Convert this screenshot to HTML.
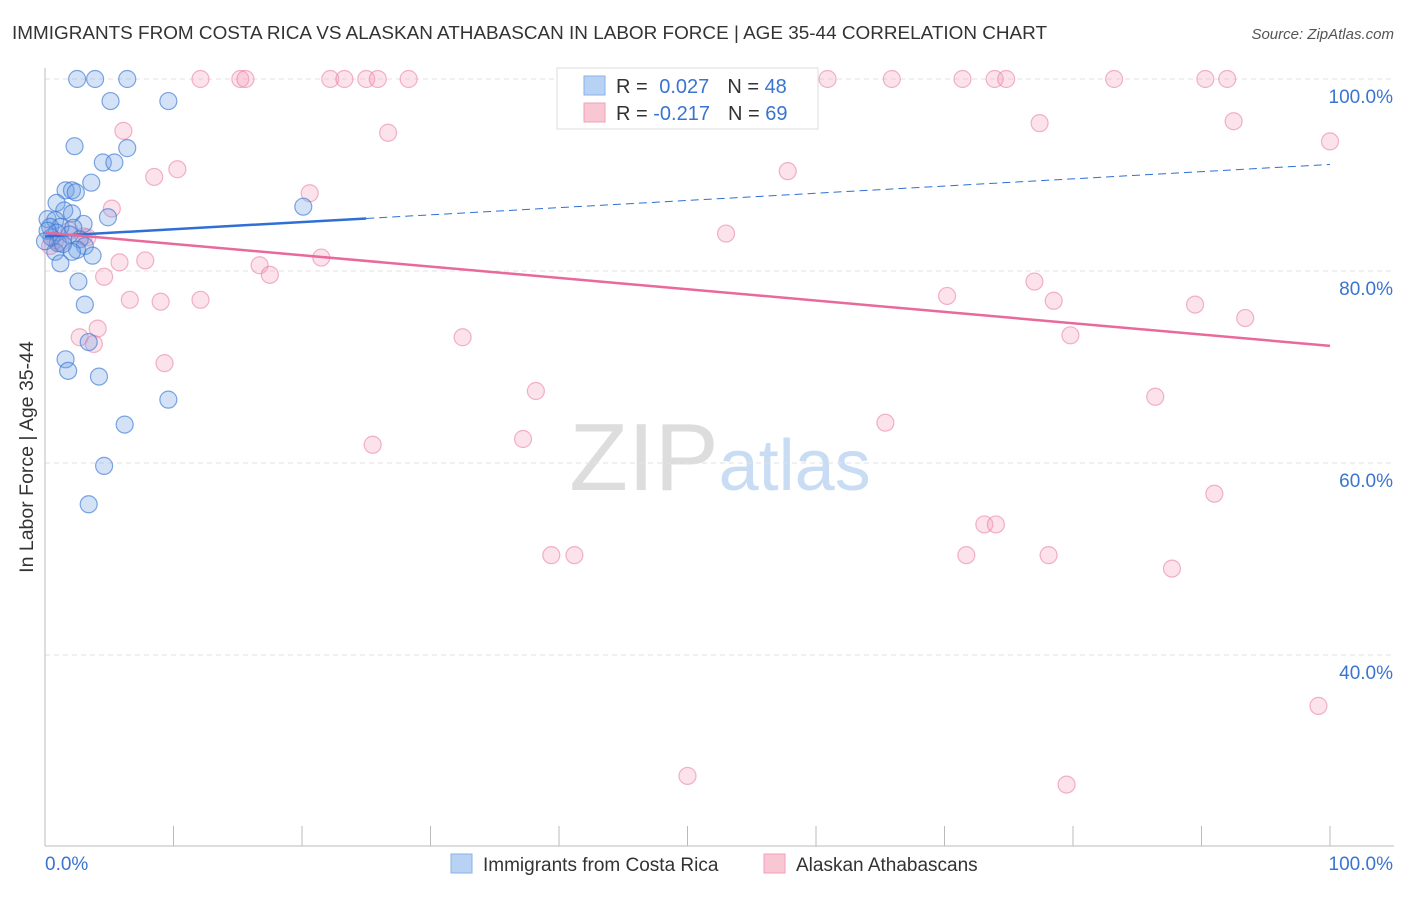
<!DOCTYPE html>
<html><head><meta charset="utf-8"><style>
body{margin:0;background:#fff;font-family:"Liberation Sans",sans-serif;}
svg text{font-family:"Liberation Sans",sans-serif;}
</style></head><body>
<svg id="chart" width="1406" height="892" xmlns="http://www.w3.org/2000/svg">
<text x="12" y="39" font-size="18.5" fill="#333" textLength="1035" lengthAdjust="spacingAndGlyphs">IMMIGRANTS FROM COSTA RICA VS ALASKAN ATHABASCAN IN LABOR FORCE | AGE 35-44 CORRELATION CHART</text>
<text x="1394" y="39" font-size="15" fill="#555" font-style="italic" text-anchor="end">Source: ZipAtlas.com</text>
<text transform="translate(33,457) rotate(-90)" font-size="19.5" fill="#333" text-anchor="middle">In Labor Force | Age 35-44</text>
<text x="720" y="490" font-size="96" text-anchor="middle" fill="#ddd" font-family="Liberation Serif">ZIP<tspan fill="#c8dcf4" font-family="Liberation Sans" font-size="72">atlas</tspan></text>
<g id="grid"></g><g id="marks"></g>
<g>
<rect x="557" y="68" width="261" height="61" fill="#fff" stroke="#ddd"/>
<rect x="584" y="76" width="21" height="19" fill="#b8d2f4" stroke="#8ab2e8"/>
<rect x="584" y="103" width="21" height="19" fill="#f9c6d4" stroke="#f0a0b8"/>
<text x="616" y="93" font-size="20" fill="#333">R = <tspan fill="#3a74d0" dx="6">0.027</tspan><tspan dx="18" fill="#333">N = </tspan><tspan fill="#3a74d0">48</tspan></text>
<text x="616" y="120" font-size="20" fill="#333">R = <tspan fill="#3a74d0">-0.217</tspan><tspan dx="18" fill="#333">N = </tspan><tspan fill="#3a74d0">69</tspan></text>
</g>
<g>
<rect x="451" y="854" width="21" height="19" fill="#b8d2f4" stroke="#8ab2e8"/>
<text x="483" y="871" font-size="19" fill="#333">Immigrants from Costa Rica</text>
<rect x="764" y="854" width="21" height="19" fill="#f9c6d4" stroke="#f0a0b8"/>
<text x="796" y="871" font-size="19" fill="#333">Alaskan Athabascans</text>
</g>
</svg>
<script>
const yTicks=[100,80,60,40];
const yTickLabels=["100.0%","80.0%","60.0%","40.0%"];
const xTickLabels=["0.0%","100.0%"];
const blueX=[2.5,3.9,6.4,5.1,9.6,2.3,6.4,4.5,5.4,3.6,1.6,2.1,2.4,0.9,1.5,2.1,4.9,0.2,0.8,3.0,0.4,1.2,2.2,0.9,1.9,2.7,1.0,3.1,2.5,0.8,2.1,3.7,1.2,2.6,3.1,3.4,1.6,1.8,4.2,9.6,6.2,4.6,3.4,20.1,0.5,0.2,1.4,0.0];
const blueY=[100,100,100,97.7,97.7,93.0,92.8,91.3,91.3,89.2,88.4,88.4,88.2,87.1,86.3,86.0,85.6,85.4,85.3,84.9,84.6,84.6,84.5,84.0,83.8,83.3,82.9,82.6,82.2,82.0,82.0,81.6,80.8,78.9,76.5,72.6,70.8,69.6,69.0,66.6,64.0,59.7,55.7,86.7,83.5,84.2,82.8,83.1];
const pinkX=[12.1,15.2,15.6,22.2,23.3,25.0,25.9,28.3,60.9,65.9,71.4,73.9,74.8,83.2,90.3,92.0,6.1,26.7,77.4,92.5,100,8.5,10.3,57.8,20.6,5.2,53.0,3.0,1.9,0.8,3.3,1.2,4.6,5.8,7.8,16.7,17.5,21.5,6.6,9.0,12.1,70.2,77.0,78.5,89.5,93.4,4.1,2.7,3.8,32.5,79.8,9.3,38.2,86.4,65.4,37.2,25.5,91.0,73.1,74.0,39.4,41.2,71.7,78.1,87.7,99.1,50.0,79.5,0.4];
const pinkY=[100,100,100,100,100,100,100,100,100,100,100,100,100,100,100,100,94.6,94.4,95.4,95.6,93.5,89.8,90.6,90.4,88.1,86.5,83.9,83.6,84.2,83.2,83.5,82.9,79.4,80.9,81.1,80.6,79.6,81.4,77.0,76.8,77.0,77.4,78.9,76.9,76.5,75.1,74.0,73.1,72.4,73.1,73.3,70.4,67.5,66.9,64.2,62.5,61.9,56.8,53.6,53.6,50.4,50.4,50.4,50.4,49.0,34.7,27.4,26.5,82.6];
const blueTrend=[83.6,91.1];
const pinkTrend=[84.0,72.2];
const blueSolidEnd=25;
const X=v=>45+v*12.85, Y=v=>79+(100-v)*9.6;
const NS="http://www.w3.org/2000/svg";
const grid=document.getElementById('grid'), marks=document.getElementById('marks');
function mk(tag,attrs,parent){const e=document.createElementNS(NS,tag);for(const k in attrs)e.setAttribute(k,attrs[k]);parent.appendChild(e);return e;}
yTicks.forEach((t,i)=>{
 const l=mk('line',{x1:45,x2:1394,y1:Y(t),y2:Y(t),stroke:'#e2e2e2','stroke-dasharray':'5,4'},grid);
 
 
 const tx=mk('text',{x:1393,y:Y(t)+24,'font-size':19,fill:'#3a74d0','text-anchor':'end'},grid);
 tx.textContent=yTickLabels[i];
 
 
});
const ya=mk('line',{x1:45,x2:45,y1:68,y2:846,stroke:'#bbb'},grid);


const xa=mk('line',{x1:45,x2:1394,y1:846,y2:846,stroke:'#bbb'},grid);


for(let i=1;i<=10;i++){const t=mk('line',{x1:X(i*10),x2:X(i*10),y1:826,y2:846,stroke:'#bbb'},grid);
 
 }
[[0,'start',45],[1,'end',1393]].forEach(([i,a,x])=>{const t=mk('text',{x:x,y:870,'font-size':19,fill:'#3a74d0','text-anchor':a},grid);t.textContent=xTickLabels[i];
 
 });
function dots(xs,ys,fill,stroke,name){xs.forEach((x,i)=>{const c=mk('circle',{cx:X(x),cy:Y(ys[i]),r:8.5,fill:fill,stroke:stroke,'stroke-width':1.2},marks);
 
 });}
dots(pinkX,pinkY,'rgba(244,160,188,0.3)','rgba(232,120,160,0.55)','athabascan-point');
dots(blueX,blueY,'rgba(110,160,230,0.3)','rgba(60,120,210,0.65)','costa-rica-point');
const bAt=v=>blueTrend[0]+(blueTrend[1]-blueTrend[0])*v/100;
const b1=mk('line',{x1:X(0),y1:Y(bAt(0)),x2:X(blueSolidEnd),y2:Y(bAt(blueSolidEnd)),stroke:'#2f6fd6','stroke-width':2.5},marks);


const b2=mk('line',{x1:X(blueSolidEnd),y1:Y(bAt(blueSolidEnd)),x2:X(100),y2:Y(bAt(100)),stroke:'#2f6fd6','stroke-width':1,'stroke-dasharray':'8,5'},marks);


const p1=mk('line',{x1:X(0),y1:Y(pinkTrend[0]),x2:X(100),y2:Y(pinkTrend[1]),stroke:'#e8699a','stroke-width':2.5},marks);


</script>
</body></html>
